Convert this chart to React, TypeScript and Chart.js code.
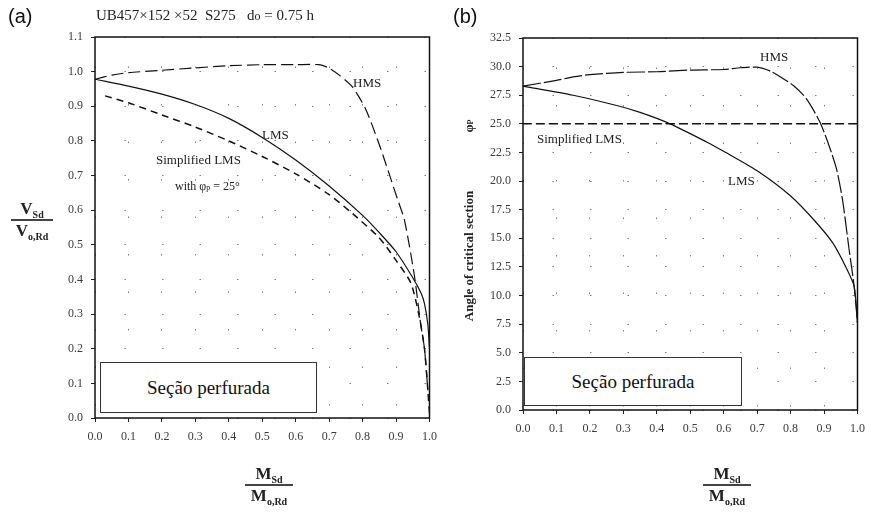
import React, { useEffect, useRef } from 'react';
import { Chart, registerables } from 'chart.js';

Chart.register(...registerables);

// ---------- Chart (a): V_Sd/V_o,Rd versus M_Sd/M_o,Rd ----------
const A_HMS_M = [0, 0.05, 0.1, 0.2, 0.3, 0.4, 0.5, 0.6, 0.67, 0.7, 0.73, 0.77, 0.81, 0.855, 0.905, 0.925, 0.955, 0.973, 0.985, 0.995];
const A_HMS_V = [0.978, 0.99, 0.997, 1.004, 1.011, 1.017, 1.02, 1.02, 1.02, 1.01, 0.99, 0.955, 0.89, 0.775, 0.63, 0.572, 0.41, 0.275, 0.2, 0.08];

const A_LMS_M = [0, 0.1, 0.2, 0.3, 0.4, 0.5, 0.6, 0.7, 0.8, 0.85, 0.9, 0.95, 0.975, 0.985, 0.995, 1.0];
const A_LMS_V = [0.978, 0.958, 0.935, 0.905, 0.865, 0.81, 0.745, 0.67, 0.585, 0.535, 0.48, 0.405, 0.36, 0.33, 0.27, 0.2];

const A_SIMP_M = [0.03, 0.1, 0.2, 0.3, 0.4, 0.5, 0.6, 0.7, 0.77, 0.85, 0.9, 0.944, 0.97, 0.985, 0.995, 1.0];
const A_SIMP_V = [0.93, 0.91, 0.875, 0.84, 0.8, 0.755, 0.705, 0.645, 0.59, 0.52, 0.455, 0.39, 0.29, 0.2, 0.08, 0.015];

// ---------- Chart (b): angle of critical section phi_p versus M_Sd/M_o,Rd ----------
const B_HMS_M = [0, 0.1, 0.15, 0.2, 0.3, 0.4, 0.5, 0.6, 0.65, 0.7, 0.74, 0.77, 0.81, 0.847, 0.89, 0.935, 0.955, 0.975, 0.99, 1.0];
const B_HMS_PHI = [28.3, 28.8, 29.1, 29.3, 29.5, 29.55, 29.7, 29.75, 29.9, 29.95, 29.6, 29.1, 28.3, 27.2, 25.0, 21.3, 18.4, 14.0, 10.8, 7.6];

const B_LMS_M = [0, 0.15, 0.28, 0.35, 0.44, 0.55, 0.6, 0.7, 0.8, 0.87, 0.926, 0.965, 0.99, 1.0];
const B_LMS_PHI = [28.3, 27.5, 26.6, 26.0, 25.0, 23.4, 22.6, 20.9, 18.7, 16.6, 14.6, 12.5, 10.8, 7.6];

const B_SIMP_M = [0, 1.0];
const B_SIMP_PHI = [25.0, 25.0];

const X_MIN = 0;
const X_MAX = 1.0;
const X_STEP = 0.1;
const A_Y_MIN = 0;
const A_Y_MAX = 1.1;
const A_Y_STEP = 0.1;
const B_Y_MIN = 0;
const B_Y_MAX = 32.5;
const B_Y_STEP = 2.5;

const SERIF = '"Liberation Serif", "Times New Roman", serif';
const SANS = '"Liberation Sans", Arial, sans-serif';

const pts = (xs: number[], ys: number[]) => xs.map((x, i) => ({ x, y: ys[i] }));

const frame = {
  id: 'frame',
  afterDraw(chart: any) {
    const { ctx, chartArea: a } = chart;
    ctx.save();
    ctx.strokeStyle = '#111';
    ctx.lineWidth = 1.5;
    ctx.strokeRect(a.left, a.top, a.right - a.left, a.bottom - a.top);
    ctx.restore();
  },
};

function axisOpts(min: number, max: number, step: number, fit: (s: any) => void) {
  return {
    type: 'linear' as const,
    min,
    max,
    afterFit: fit,
    ticks: {
      stepSize: step,
      autoSkip: false,
      maxRotation: 0,
      padding: 8,
      color: '#3a3a3a',
      font: { family: SERIF, size: 12 },
      callback: (v: any) => Number(v).toFixed(1),
    },
    grid: {
      color: 'rgba(0,0,0,0.5)',
      lineWidth: 1,
      tickLength: 4,
      tickColor: '#222',
      tickWidth: 1,
    },
    border: { display: false, dash: [1.5, 36], dashOffset: 8 },
  };
}

function buildChart(
  canvas: HTMLCanvasElement,
  datasets: any[],
  yMin: number,
  yMax: number,
  yStep: number,
  yWidth: number,
  xHeight: number,
  padding: any
) {
  return new Chart(canvas, {
    type: 'scatter',
    data: { datasets },
    options: {
      responsive: false,
      animation: false,
      layout: { padding },
      plugins: { legend: { display: false }, tooltip: { enabled: false } },
      scales: {
        x: axisOpts(X_MIN, X_MAX, X_STEP, (s: any) => { s.height = xHeight; }),
        y: axisOpts(yMin, yMax, yStep, (s: any) => { s.width = yWidth; }),
      },
    } as any,
    plugins: [frame],
  });
}

function line(data: any, dash: number[], width: number) {
  return {
    data,
    showLine: true,
    borderColor: '#111',
    borderWidth: width,
    borderDash: dash,
    pointRadius: 0,
    tension: 0.25,
    fill: false,
  };
}

const abs = (left: number, top: number, extra: any = {}) => ({ position: 'absolute' as const, left, top, ...extra });

function Fraction({ cx, lineY, w, num, numSub, den, denSub, size }: any) {
  const txt = { fontFamily: SERIF, fontWeight: 'bold' as const, fontSize: size, lineHeight: 1, whiteSpace: 'nowrap' as const, color: '#222' };
  const sub = { fontSize: Math.round(size * 0.6), verticalAlign: 'baseline', position: 'relative' as const, top: Math.round(size * 0.25) };
  return (
    <>
      <div style={{ ...abs(cx, lineY - 2), transform: 'translate(-50%, -100%)', ...txt }}>
        {num}<span style={sub}>{numSub}</span>
      </div>
      <div style={{ ...abs(cx - w / 2, lineY), width: w, height: 1.5, background: '#444' }} />
      <div style={{ ...abs(cx, lineY + 3), transform: 'translateX(-50%)', ...txt }}>
        {den}<span style={sub}>{denSub}</span>
      </div>
    </>
  );
}

function Label({ x, y, children, size = 13 }: any) {
  return (
    <div style={{ ...abs(x, y), fontFamily: SERIF, fontSize: size, lineHeight: 1, whiteSpace: 'pre', color: '#222' }}>
      {children}
    </div>
  );
}

function Box({ left, top, w, h }: any) {
  return (
    <div
      style={{
        ...abs(left, top),
        width: w,
        height: h,
        boxSizing: 'border-box',
        border: '1.5px solid #333',
        background: '#fff',
        display: 'flex',
        alignItems: 'center',
        justifyContent: 'center',
        fontFamily: SERIF,
        fontSize: 19,
        color: '#111',
      }}
    >
      Seção perfurada
    </div>
  );
}

export default function App() {
  const refA = useRef<HTMLCanvasElement>(null);
  const refB = useRef<HTMLCanvasElement>(null);

  useEffect(() => {
    const chartA = buildChart(
      refA.current!,
      [
        line(pts(A_HMS_M, A_HMS_V), [12, 5], 1.2),
        line(pts(A_LMS_M, A_LMS_V), [], 1.2),
        line(pts(A_SIMP_M, A_SIMP_V), [7, 5], 1.5),
      ],
      A_Y_MIN, A_Y_MAX, A_Y_STEP,
      95, 96,
      { left: 0, right: 12, top: 37, bottom: 0 }
    );
    const chartB = buildChart(
      refB.current!,
      [
        line(pts(B_HMS_M, B_HMS_PHI), [18, 3], 1.2),
        line(pts(B_LMS_M, B_LMS_PHI), [], 1.2),
        line(pts(B_SIMP_M, B_SIMP_PHI), [9, 4], 1.5),
      ],
      B_Y_MIN, B_Y_MAX, B_Y_STEP,
      83, 104,
      { left: 0, right: 11, top: 38, bottom: 0 }
    );
    return () => {
      chartA.destroy();
      chartB.destroy();
    };
  }, []);

  return (
    <div style={{ position: 'absolute', left: 0, top: 0, width: 873, height: 514, background: '#fff', overflow: 'hidden' }}>
      <canvas ref={refA} width={445} height={514} style={{ ...abs(0, 0), width: 445, height: 514 }} />
      <canvas ref={refB} width={433} height={514} style={{ ...abs(440, 0), width: 433, height: 514 }} />

      <div style={{ ...abs(8, 6), fontFamily: SANS, fontSize: 20, lineHeight: 1, color: '#111' }}>(a)</div>
      <div style={{ ...abs(453, 6), fontFamily: SANS, fontSize: 20, lineHeight: 1, color: '#111' }}>(b)</div>
      <div style={{ ...abs(96, 8), fontFamily: SERIF, fontSize: 15, lineHeight: 1, whiteSpace: 'pre', color: '#222' }}>
        {'UB457×152 ×52  S275   d'}<span style={{ fontSize: 12 }}>o</span>{' = 0.75 h'}
      </div>

      {/* chart (a) annotations */}
      <Label x={353} y={76}>HMS</Label>
      <Label x={262} y={128}>LMS</Label>
      <Label x={156} y={153}>Simplified LMS</Label>
      <Label x={175} y={180} size={12}>
        {'with φ'}<span style={{ fontSize: 8 }}>p</span>{' = 25°'}
      </Label>
      <Box left={100} top={362} w={217} h={51} />
      <Fraction cx={32} lineY={219} w={42} num="V" numSub="Sd" den="V" denSub="o,Rd" size={17} />
      <Fraction cx={269} lineY={484} w={48} num="M" numSub="Sd" den="M" denSub="o,Rd" size={17} />

      {/* chart (b) annotations */}
      <Label x={760} y={50}>HMS</Label>
      <Label x={537} y={132}>Simplified LMS</Label>
      <Label x={728} y={174}>LMS</Label>
      <Box left={524} top={357} w={218} h={49} />
      <div
        style={{
          ...abs(468, 256),
          transform: 'translate(-50%, -50%) rotate(-90deg)',
          fontFamily: SERIF,
          fontWeight: 'bold',
          fontSize: 13,
          lineHeight: 1,
          whiteSpace: 'nowrap',
          color: '#222',
        }}
      >
        Angle of critical section
      </div>
      <div
        style={{
          ...abs(468, 126),
          transform: 'translate(-50%, -50%) rotate(-90deg)',
          fontFamily: SERIF,
          fontWeight: 'bold',
          fontSize: 13,
          lineHeight: 1,
          whiteSpace: 'nowrap',
          color: '#222',
        }}
      >
        φ<span style={{ fontSize: 8 }}>P</span>
      </div>
      <Fraction cx={727} lineY={484} w={48} num="M" numSub="Sd" den="M" denSub="o,Rd" size={17} />
    </div>
  );
}
